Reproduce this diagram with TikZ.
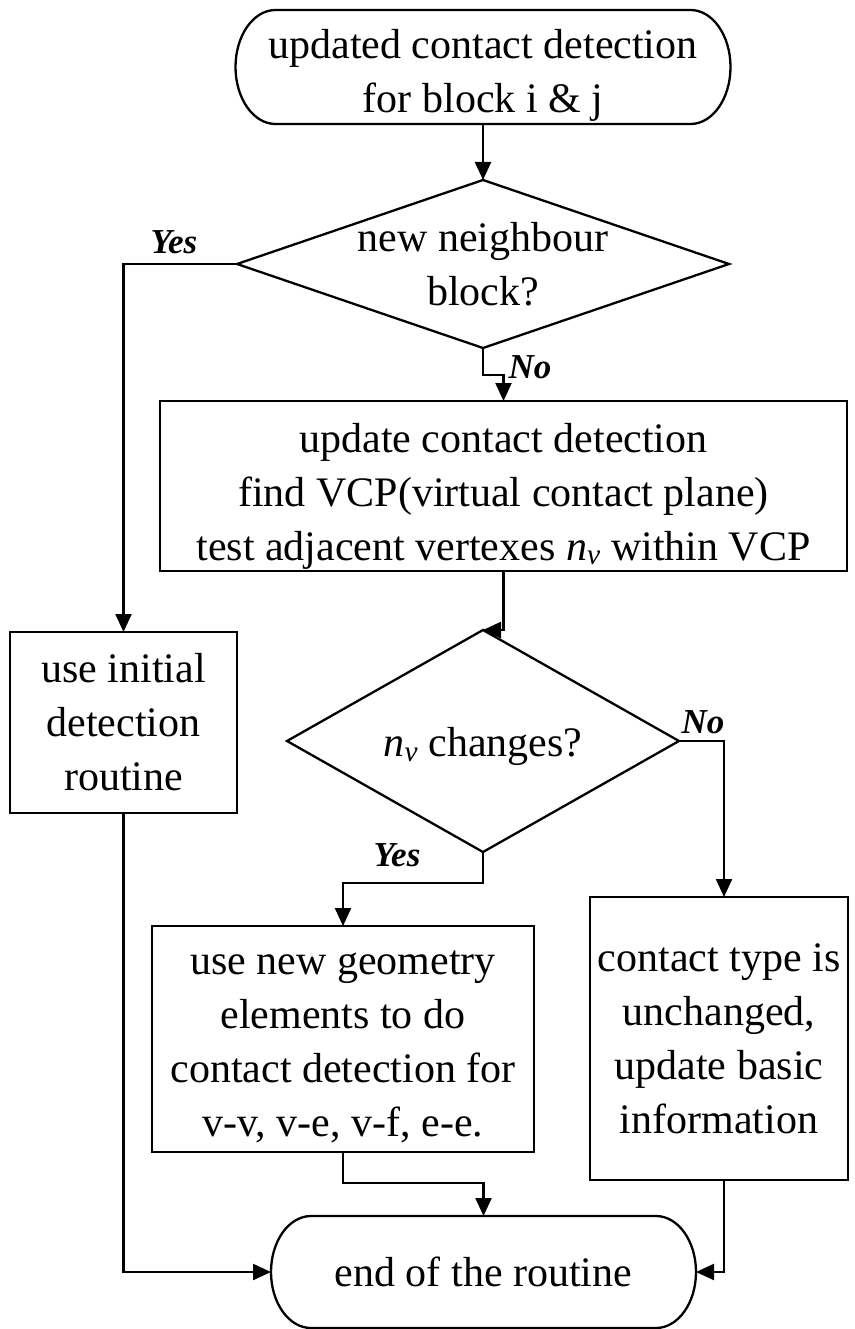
\documentclass[tikz,border=0pt]{standalone}
\usepackage{fontspec}
\setmainfont{Liberation Serif}
\usetikzlibrary{arrows.meta}
\newcommand{\nv}{{\itshape n}\textsubscript{\itshape v}}
\newcommand{\upstrut}[1]{\rule{0pt}{#1}}
\begin{document}
\begin{tikzpicture}[x=1pt,y=-1pt,
  every node/.style={inner sep=0pt, outer sep=0pt},
  txt/.style={align=center, font=\fontsize{42}{54}\selectfont},
  procbox/.style={txt, draw, line width=2.3pt},
  shapeonly/.style={txt},
  lbl/.style={font=\fontsize{35}{40}\selectfont\bfseries\itshape},
  conn/.style={line width=2.3pt, -{Triangle[length=18pt,width=16pt]}},
  outline/.style={line width=2.3pt}
]
\path[fill=white, use as bounding box] (0,0) rectangle (854,1329);

% terminators
\node[shapeonly, minimum width=495pt, minimum height=114pt] (t1) at (483,67)
  {\upstrut{45pt}updated contact detection\\for block i \& j};
\node[shapeonly, minimum width=425pt, minimum height=112pt] (t2) at (483.5,1272)
  {end of the routine};
\draw[outline] ([xshift=40pt]t1.north west) -- ([xshift=-40pt]t1.north east)
  arc[start angle=90, end angle=-90, x radius=40pt, y radius=57pt]
  -- ([xshift=40pt]t1.south west)
  arc[start angle=270, end angle=90, x radius=40pt, y radius=57pt] -- cycle;
\draw[outline] ([xshift=40pt]t2.north west) -- ([xshift=-40pt]t2.north east)
  arc[start angle=90, end angle=-90, x radius=40pt, y radius=56pt]
  -- ([xshift=40pt]t2.south west)
  arc[start angle=270, end angle=90, x radius=40pt, y radius=56pt] -- cycle;

% decisions
\node[shapeonly, minimum width=492pt, minimum height=168pt] (d1) at (483,264)
  {new neighbour\\block?};
\draw[outline] (d1.north) -- (d1.east) -- (d1.south) -- (d1.west) -- cycle;
\node[shapeonly, minimum width=392pt, minimum height=222pt] (d2) at (483,741)
  {\upstrut{41pt}\nv{} changes?};
\draw[outline] (d2.north) -- (d2.east) -- (d2.south) -- (d2.west) -- cycle;

% process boxes
\node[procbox, minimum width=687pt, minimum height=170pt] (b2) at (503.5,486)
  {\upstrut{49pt}update contact detection\\find VCP(virtual contact plane)\\test adjacent vertexes \nv{} within VCP};
\node[procbox, minimum width=227pt, minimum height=181pt] (bl) at (123.5,722.5)
  {use initial\\detection\\routine};
\node[procbox, minimum width=382pt, minimum height=226pt] (bm) at (343,1039)
  {\upstrut{39pt}use new geometry\\elements to do\\contact detection for\\v-v, v-e, v-f, e-e.};
\node[procbox, minimum width=258pt, minimum height=283pt] (br) at (719,1038.5)
  {contact type is\\unchanged,\\update basic\\information};

% labels
\node[lbl] (yes1) at (174,242) {Yes};
\node[lbl] (no1) at (530,367) {No};
\node[lbl] (no2) at (703,722) {No};
\node[lbl] (yes2) at (397,855) {Yes};

% connectors
\draw[conn] (t1.south) -- (d1.north);
\draw[conn] (d1.west) -| (bl.north);
\draw[conn] (d1.south) -- ++(0,27) -| (b2.north);
\draw[conn] (b2.south) |- (d2.north);
\draw[conn] (d2.east) -| ([xshift=5pt]br.north);
\draw[conn] (d2.south) -- ++(0,31) -| (bm.north);
\draw[conn] (bl.south) |- (t2.west);
\draw[conn] (bm.south) -- ++(0,31) -| (t2.north);
\draw[conn] ([xshift=5pt]br.south) |- (t2.east);
\end{tikzpicture}
\end{document}
